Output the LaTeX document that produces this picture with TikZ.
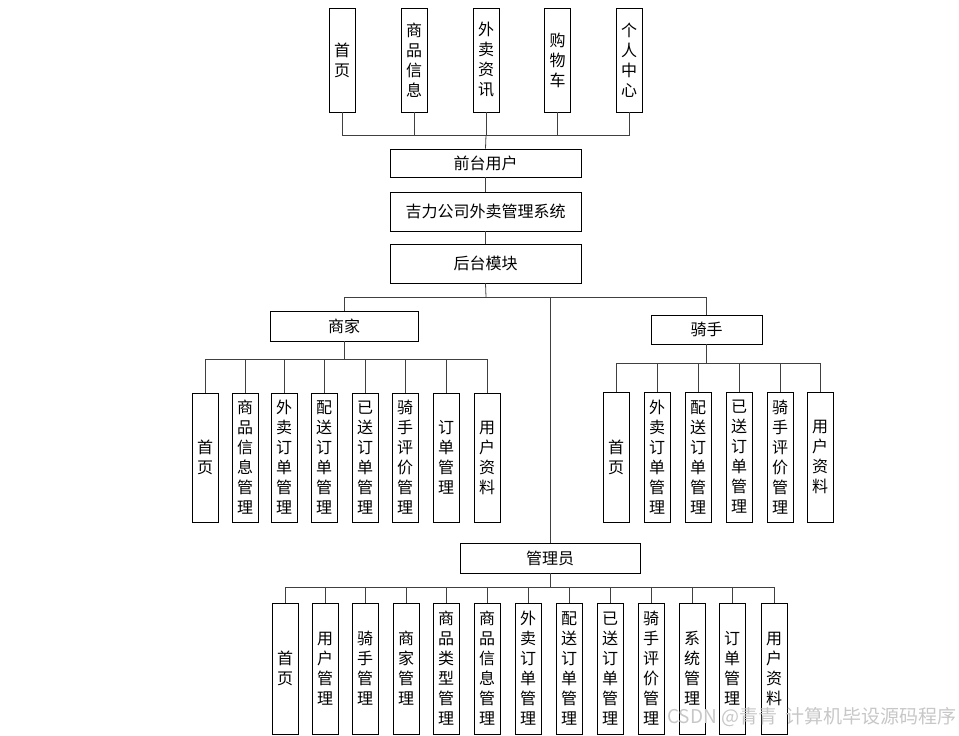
\documentclass[tikz,border=0pt]{standalone}
\usepackage{fontspec}
\setmainfont{Noto Sans CJK SC}
\begin{document}
\begin{tikzpicture}[x=1pt,y=-1pt,
  vbox/.style={draw, line width=0.9pt, align=center, inner sep=0pt, minimum width=26, font=\fontsize{16}{20}\selectfont},
  hbox/.style={draw, line width=0.9pt, align=center, inner sep=0pt, font=\fontsize{16}{20}\selectfont},
  link/.style={draw=black!75, line width=0.8pt}]
\useasboundingbox (0,0) rectangle (959,736);
% front end
\node[vbox, minimum height=104] (q1) at (342,60) {首\\页};
\node[vbox, minimum height=104] (q2) at (414,60) {商\\品\\信\\息};
\node[vbox, minimum height=104] (q3) at (486,60) {外\\卖\\资\\讯};
\node[vbox, minimum height=104] (q4) at (557.5,60) {购\\物\\车};
\node[vbox, minimum height=104] (q5) at (629,60) {个\\人\\中\\心};
\node[hbox, minimum width=191, minimum height=28] (qt) at (485.5,163) {前台用户};
\node[hbox, minimum width=191, minimum height=39] (jl) at (485.5,211.5) {吉力公司外卖管理系统};
\node[hbox, minimum width=191, minimum height=39] (ht) at (485.5,263.5) {后台模块};
\coordinate (qtbus) at (486,135);
\coordinate (htbus) at (486,297);
\draw[link] (qt.north) -- (qtbus);
\draw[link] (qtbus) -| (q1.south);
\draw[link] (qtbus) -| (q2.south);
\draw[link] (qtbus) -| (q3.south);
\draw[link] (qtbus) -| (q4.south);
\draw[link] (qtbus) -| (q5.south);
\draw[link] (qt) -- (jl);
\draw[link] (jl) -- (ht);
\draw[link] (ht.south) -- (htbus);
% merchant
\node[hbox, minimum width=148, minimum height=30] (sj) at (344,326) {商家};
\node[vbox, minimum height=129] (sj1) at (205,457.5) {首\\页};
\node[vbox, minimum height=129] (sj2) at (245,457.5) {商\\品\\信\\息\\管\\理};
\node[vbox, minimum height=129] (sj3) at (284,457.5) {外\\卖\\订\\单\\管\\理};
\node[vbox, minimum height=129] (sj4) at (324,457.5) {配\\送\\订\\单\\管\\理};
\node[vbox, minimum height=129] (sj5) at (365,457.5) {已\\送\\订\\单\\管\\理};
\node[vbox, minimum height=129] (sj6) at (405,457.5) {骑\\手\\评\\价\\管\\理};
\node[vbox, minimum height=129] (sj7) at (446,457.5) {订\\单\\管\\理};
\node[vbox, minimum height=129] (sj8) at (487,457.5) {用\\户\\资\\料};
\coordinate (sjbus) at (344,359);
\draw[link] (htbus) -| (sj.north);
\draw[link] (sj.south) -- (sjbus);
\draw[link] (sjbus) -| (sj1.north);
\draw[link] (sjbus) -| (sj2.north);
\draw[link] (sjbus) -| (sj3.north);
\draw[link] (sjbus) -| (sj4.north);
\draw[link] (sjbus) -| (sj5.north);
\draw[link] (sjbus) -| (sj6.north);
\draw[link] (sjbus) -| (sj7.north);
\draw[link] (sjbus) -| (sj8.north);
% rider
\node[hbox, minimum width=111, minimum height=29] (qs) at (706.5,329.5) {骑手};
\node[vbox, minimum height=130] (qs1) at (616,457) {首\\页};
\node[vbox, minimum height=130] (qs2) at (657,457) {外\\卖\\订\\单\\管\\理};
\node[vbox, minimum height=130] (qs3) at (698,457) {配\\送\\订\\单\\管\\理};
\node[vbox, minimum height=130] (qs4) at (739,457) {已\\送\\订\\单\\管\\理};
\node[vbox, minimum height=130] (qs5) at (780,457) {骑\\手\\评\\价\\管\\理};
\node[vbox, minimum height=130] (qs6) at (820,457) {用\\户\\资\\料};
\coordinate (qsbus) at (706.5,363);
\draw[link] (htbus) -| (qs.north);
\draw[link] (qs.south) -- (qsbus);
\draw[link] (qsbus) -| (qs1.north);
\draw[link] (qsbus) -| (qs2.north);
\draw[link] (qsbus) -| (qs3.north);
\draw[link] (qsbus) -| (qs4.north);
\draw[link] (qsbus) -| (qs5.north);
\draw[link] (qsbus) -| (qs6.north);
% admin
\node[hbox, minimum width=180, minimum height=30] (gly) at (550,558) {管理员};
\node[vbox, minimum height=131] (g1) at (285,668.5) {首\\页};
\node[vbox, minimum height=131] (g2) at (325,668.5) {用\\户\\管\\理};
\node[vbox, minimum height=131] (g3) at (365,668.5) {骑\\手\\管\\理};
\node[vbox, minimum height=131] (g4) at (406,668.5) {商\\家\\管\\理};
\node[vbox, minimum height=131] (g5) at (446,668.5) {商\\品\\类\\型\\管\\理};
\node[vbox, minimum height=131] (g6) at (487,668.5) {商\\品\\信\\息\\管\\理};
\node[vbox, minimum height=131] (g7) at (528,668.5) {外\\卖\\订\\单\\管\\理};
\node[vbox, minimum height=131] (g8) at (569,668.5) {配\\送\\订\\单\\管\\理};
\node[vbox, minimum height=131] (g9) at (610,668.5) {已\\送\\订\\单\\管\\理};
\node[vbox, minimum height=131] (g10) at (651,668.5) {骑\\手\\评\\价\\管\\理};
\node[vbox, minimum height=131] (g11) at (692,668.5) {系\\统\\管\\理};
\node[vbox, minimum height=131] (g12) at (732,668.5) {订\\单\\管\\理};
\node[vbox, minimum height=131] (g13) at (774,668.5) {用\\户\\资\\料};
\coordinate (glybus) at (550,587);
\draw[link] (htbus) -| (gly.north);
\draw[link] (gly.south) -- (glybus);
\draw[link] (glybus) -| (g1.north);
\draw[link] (glybus) -| (g2.north);
\draw[link] (glybus) -| (g3.north);
\draw[link] (glybus) -| (g4.north);
\draw[link] (glybus) -| (g5.north);
\draw[link] (glybus) -| (g6.north);
\draw[link] (glybus) -| (g7.north);
\draw[link] (glybus) -| (g8.north);
\draw[link] (glybus) -| (g9.north);
\draw[link] (glybus) -| (g10.north);
\draw[link] (glybus) -| (g11.north);
\draw[link] (glybus) -| (g12.north);
\draw[link] (glybus) -| (g13.north);
% watermark
\node[anchor=east, inner sep=0pt, text=black!22, font=\fontsize{19}{19}\selectfont] (wm) at (957,717) {CSDN @青青\ \ 计算机毕设源码程序};
\end{tikzpicture}
\end{document}
